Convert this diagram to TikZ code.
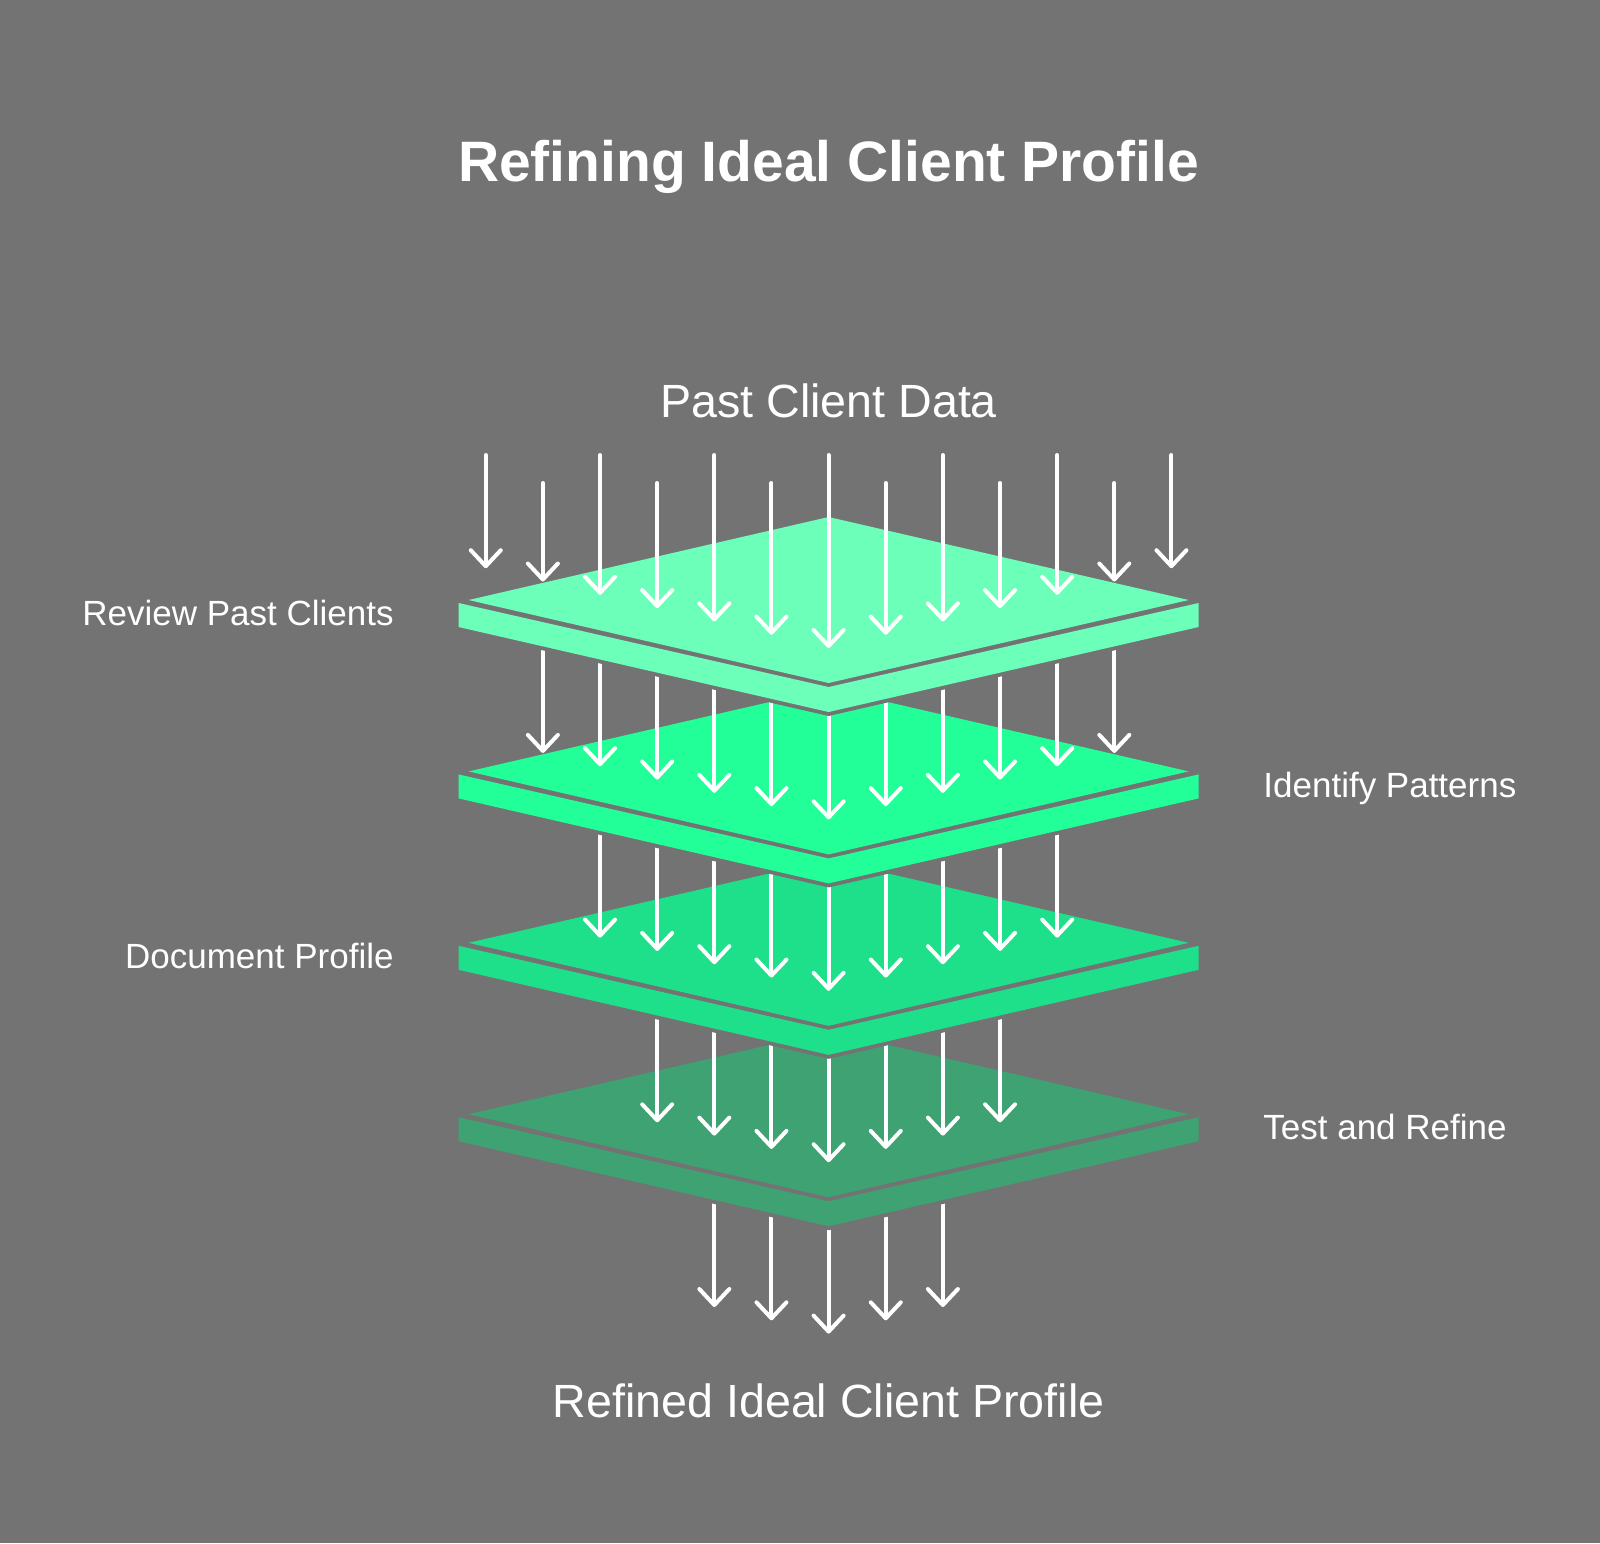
\documentclass[tikz,border=0pt]{standalone}
\usepackage{fontspec}
\setmainfont{Liberation Sans}
\usetikzlibrary{arrows.meta}

\definecolor{bggray}{HTML}{737373}
\definecolor{layerA}{HTML}{6BFFBA}
\definecolor{layerB}{HTML}{22FF98}
\definecolor{layerC}{HTML}{1FE08A}
\definecolor{layerD}{HTML}{3EA273}

\begin{document}
\begin{tikzpicture}[x=0.5pt, y=-0.5pt,
    flow/.style={white, line width=2pt, line cap=round,
        -{Straight Barb[length=8pt, width=15pt, line cap=round, line join=round]}},
    titletext/.style={white, inner sep=0pt, anchor=base, font=\bfseries\fontsize{28.5}{34}\selectfont},
    endtext/.style={white, inner sep=0pt, anchor=base, font=\fontsize{23.3}{28}\selectfont},
    stagetext/.style={white, inner sep=0pt, font=\fontsize{17.5}{21}\selectfont}]
    % Background
    \fill[bggray] (0,0) rectangle (1600,1543);
    \useasboundingbox (0,0) rectangle (1600,1543);

    % Layers from the bottom up, each after the arrows that leave it
    \foreach \i/\col in {3/layerD, 2/layerC, 1/layerB, 0/layerA} {
        \pgfmathtruncatemacro{\g}{\i+1}
        \pgfmathtruncatemacro{\n}{5-\i}
        \foreach \k in {-\n,...,\n} {
            \draw[flow] ({828.6+57.14*\k}, {700-13.3*abs(\k)+171.4*\i})
                -- ({828.6+57.14*\k}, {648-13.3*abs(\k)+171.4*\g});
        }
        \begin{scope}[shift={(0,171.4*\i)}]
            % gap under the slab
            \fill[bggray] (458.6,607) -- (828.6,691) -- (1198.6,607) -- (1198.6,631)
                -- (828.6,716) -- (458.6,631) -- cycle;
            % slab
            \fill[\col] (458.6,603) -- (828.6,687) -- (1198.6,603) -- (1198.6,627)
                -- (828.6,712) -- (458.6,627) -- cycle;
            % top face
            \fill[\col] (828.6,517) -- (468.6,600) -- (828.6,683) -- (1188.6,600) -- cycle;
        \end{scope}
    }

    % Incoming data
    \foreach \k in {-6,...,6} {
        \pgfmathsetmacro{\ystart}{ifthenelse(mod(abs(\k),2)==1, 483, 455)}
        \draw[flow] ({828.6+57.14*\k}, \ystart) -- ({828.6+57.14*\k}, {648-13.3*abs(\k)});
    }

    % Texts
    \node[titletext] (title) at (828.6,181.6) {Refining Ideal Client Profile};
    \node[endtext] (source) at (828.6,417.3) {Past Client Data};
    \node[endtext] (result) at (828.6,1417) {Refined Ideal Client Profile};
    \node[stagetext, anchor=base east] (review) at (394,625.7) {Review Past Clients};
    \node[stagetext, anchor=base west] (identify) at (1263,797.1) {Identify Patterns};
    \node[stagetext, anchor=base east] (document) at (394,968.5) {Document Profile};
    \node[stagetext, anchor=base west] (test) at (1263,1139.9) {Test and Refine};
\end{tikzpicture}
\end{document}
